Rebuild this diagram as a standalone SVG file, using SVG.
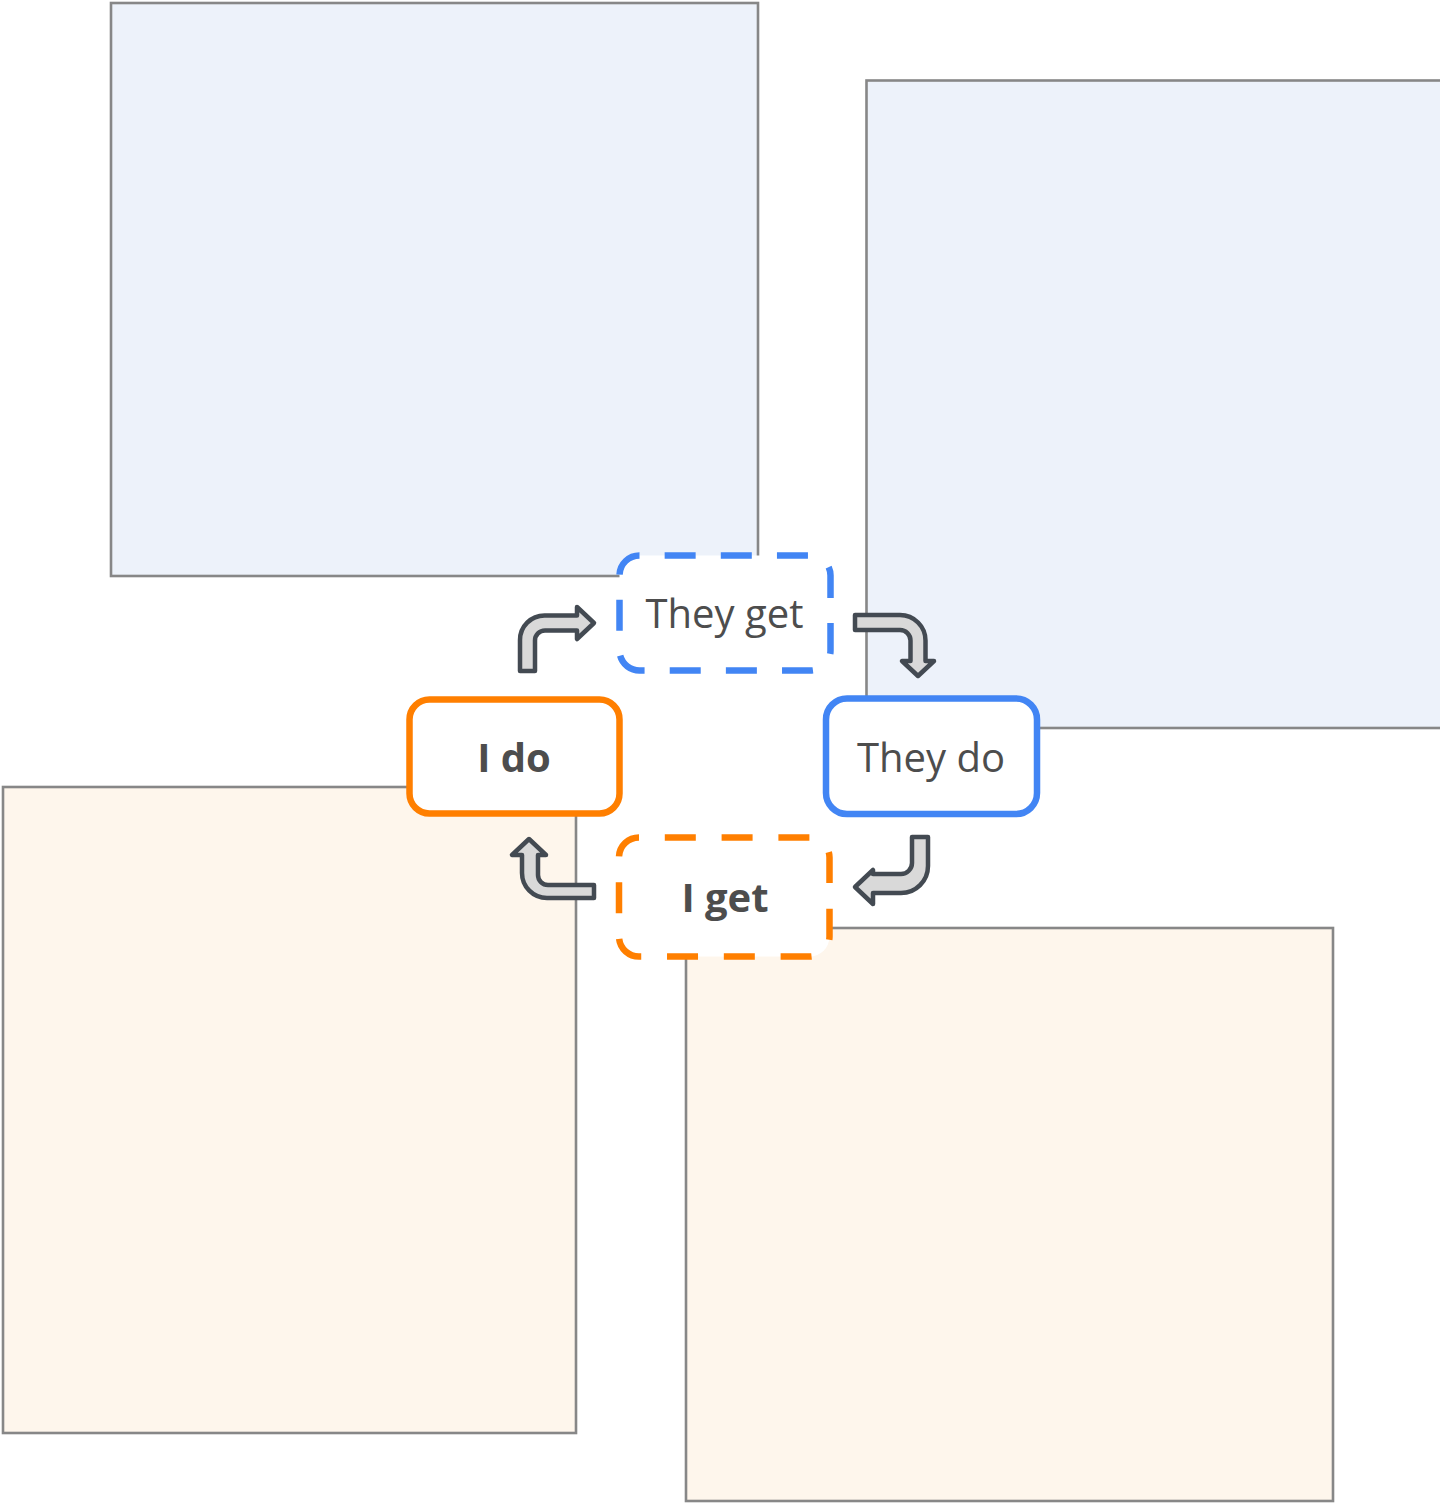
<svg xmlns="http://www.w3.org/2000/svg" width="1440" height="1503" viewBox="0 0 1440 1503">
  <style>
    .panel { stroke: #878787; stroke-width: 2.6; }
    .blue-panel { fill: #edf2fa; }
    .peach-panel { fill: #fef6ec; }
    .node { fill: #ffffff; stroke-width: 6.5; }
    .solid-blue { stroke: #4285f4; }
    .solid-orange { stroke: #ff7f00; }
    /* dash periods sized so 11 dashes fit each outline exactly */
    .dashed-a { stroke-dasharray: 31 25.15; stroke-dashoffset: 31; }
    .dashed-b { stroke-dasharray: 31 25.8; stroke-dashoffset: 31; }
    .label { font-family: "Open Sans", "Noto Sans", sans-serif; font-size: 40px; fill: #4d4d4d; text-anchor: middle; }
    .bold { font-weight: bold; }
    .cycle-arrow { fill: #d9d9d9; stroke: #434a52; stroke-width: 4.5; stroke-linejoin: round; }
  </style>

  <!-- background panels -->
  <g id="panels">
    <rect id="panel-top-left" class="panel blue-panel" x="111" y="3" width="647" height="573"/>
    <rect id="panel-top-right" class="panel blue-panel" x="866.5" y="80.5" width="580" height="647.5"/>
    <rect id="panel-bottom-left" class="panel peach-panel" x="3" y="787" width="573" height="646"/>
    <rect id="panel-bottom-right" class="panel peach-panel" x="686" y="928" width="647" height="573"/>
  </g>

  <!-- cycle arrows -->
  <g id="connectors">
    <path id="arrow-ido-theyget" class="cycle-arrow" d="M520,671 L520,640 A24.5,24.5 0 0 1 544.5,615.5 L577,615.5 L577,607 L594,623 L577,639 L577,630.5 L545,630.5 A10,10 0 0 0 535,640.5 L535,671 Z"/>
    <path id="arrow-theyget-theydo" class="cycle-arrow" d="M855,615 L900,615 A25.5,25.5 0 0 1 925.5,640.5 L925.5,661 L934,661 L918,676 L902,661 L910.5,661 L910.5,640.5 A10.5,10.5 0 0 0 900,630 L855,630 Z"/>
    <path id="arrow-theydo-iget" class="cycle-arrow" d="M912,837 L928,837 L928,866 A27,27 0 0 1 901,893 L873,893 L873,904 L855,887 L873,870 L873,874 L901,874 A11,11 0 0 0 912,863 Z"/>
    <path id="arrow-iget-ido" class="cycle-arrow" d="M594,885 L548,885 A10,10 0 0 1 538,875 L538,855 L546,855 L529,839 L512,855 L522,855 L522,873 A25,25 0 0 0 547,898 L594,898 Z"/>
  </g>

  <!-- nodes -->
  <g id="node-they-get">
    <rect class="node solid-blue dashed-a" x="619.5" y="555.5" width="211" height="115" rx="20"/>
    <text class="label" x="724.5" y="628">They get</text>
  </g>
  <g id="node-they-do">
    <rect class="node solid-blue" x="826" y="698.5" width="211" height="115.5" rx="21"/>
    <text class="label" x="931" y="772">They do</text>
  </g>
  <g id="node-i-get">
    <rect class="node solid-orange dashed-b" x="619" y="837.5" width="210.5" height="119" rx="20"/>
    <text class="label bold" x="725" y="912">I get</text>
  </g>
  <g id="node-i-do">
    <rect class="node solid-orange" x="409.5" y="699.5" width="210" height="114" rx="20"/>
    <text class="label bold" x="514" y="772">I do</text>
  </g>
</svg>
